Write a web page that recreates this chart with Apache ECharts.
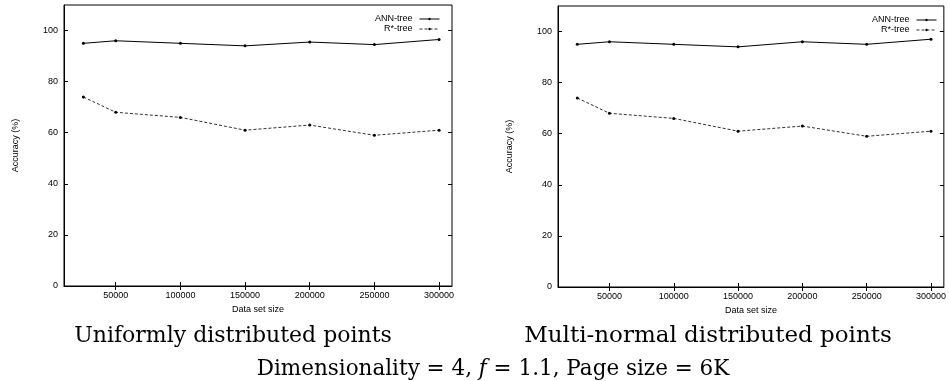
<!DOCTYPE html>
<html>
<head>
<meta charset="utf-8">
<script src="https://cdn.jsdelivr.net/npm/echarts@6.0.0/dist/echarts.min.js"></script>
<style>
  html, body { margin: 0; padding: 0; background: #fff; }
  #chart { width: 949px; height: 381px; }
</style>
</head>
<body>
<div id="chart"></div>
<script>
// data
const sizes = [25000, 50000, 100000, 150000, 200000, 250000, 300000];
const uniformAnn = [95, 96, 95, 94, 95.5, 94.5, 96.5];
const uniformRstar = [74, 68, 66, 61, 63, 59, 61];
const normalAnn = [95, 96, 95, 94, 96, 95, 97];
const normalRstar = [74, 68, 66, 61, 63, 59, 61];

const xTicks = [50000, 100000, 150000, 200000, 250000, 300000];
const yTicks = [0, 20, 40, 60, 80, 100];
const seriesNames = ["ANN-tree", "R*-tree"];
const panelCaptions = ["Uniformly distributed points", "Multi-normal distributed points"];

const SANS = '"Liberation Sans", Arial, sans-serif';
const SERIF = '"DejaVu Serif", serif';

const chart = echarts.init(document.getElementById("chart"), null, { renderer: "canvas" });

const grids = [
  { left: 64, right: 497, top: 5, bottom: 95 },
  { left: 558, right: 3, top: 6, bottom: 94 },
];

function pairs(ys) {
  return sizes.map((x, i) => [x, ys[i]]);
}

const xAxes = [];
const yAxes = [];
grids.forEach((g, gi) => {
  // bottom axis with labels
  xAxes.push({
    gridIndex: gi,
    type: "value",
    min: 10000,
    max: 310000,
    name: "Data set size",
    nameLocation: "middle",
    nameGap: 19,
    nameTextStyle: { fontFamily: SANS, fontSize: 9, color: "#000" },
    axisLine: { show: true, onZero: false, lineStyle: { color: "#000", width: 1 } },
    axisTick: { show: true, inside: true, length: 4, customValues: xTicks, lineStyle: { color: "#000" } },
    axisLabel: {
      customValues: xTicks,
      formatter: (v) => String(v),
      fontFamily: SANS,
      fontSize: 9,
      color: "#000",
      margin: 5,
    },
    splitLine: { show: false },
  });
  // mirrored ticks on top
  xAxes.push({
    gridIndex: gi,
    type: "value",
    position: "top",
    min: 10000,
    max: 310000,
    axisLine: { show: false },
    axisTick: { show: true, inside: true, length: 4, customValues: xTicks, lineStyle: { color: "#000" } },
    axisLabel: { show: false },
    splitLine: { show: false },
  });
  yAxes.push({
    gridIndex: gi,
    type: "value",
    min: 0,
    max: 110,
    name: "Accuracy (%)",
    nameLocation: "middle",
    nameGap: 44,
    nameRotate: 90,
    nameTextStyle: { fontFamily: SANS, fontSize: 9, color: "#000" },
    axisLine: { show: true, onZero: false, lineStyle: { color: "#000", width: 1 } },
    axisTick: { show: true, inside: true, length: 4, customValues: yTicks, lineStyle: { color: "#000" } },
    axisLabel: { customValues: yTicks, fontFamily: SANS, fontSize: 9, color: "#000", margin: 6 },
    splitLine: { show: false },
  });
  yAxes.push({
    gridIndex: gi,
    type: "value",
    position: "right",
    min: 0,
    max: 110,
    axisLine: { show: false },
    axisTick: { show: true, inside: true, length: 4, customValues: yTicks, lineStyle: { color: "#000" } },
    axisLabel: { show: false },
    splitLine: { show: false },
  });
});

function lineSeries(name, ys, gi, dashed) {
  return {
    name,
    type: "line",
    xAxisIndex: gi * 2,
    yAxisIndex: gi * 2,
    data: pairs(ys),
    symbol: "circle",
    symbolSize: 3,
    showSymbol: true,
    lineStyle: { color: dashed ? "#333" : "#000", width: 1, type: dashed ? [3, 2] : "solid" },
    itemStyle: { color: "#000" },
  };
}

const legendBase = {
  orient: "vertical",
  align: "right",
  itemWidth: 20,
  itemHeight: 3,
  itemGap: 0,
  padding: 0,
  data: seriesNames,
  selectedMode: false,
  lineStyle: { width: 1 },
  textStyle: { fontFamily: SANS, fontSize: 9, lineHeight: 10, color: "#000", padding: [0, 2, 0, 0] },
};

const option = {
  animation: false,
  backgroundColor: "#fff",
  grid: grids.map((g) => ({ ...g, show: true, borderColor: "#000", borderWidth: 1 })),
  xAxis: xAxes,
  yAxis: yAxes,
  legend: [
    { ...legendBase, right: 509, top: 14 },
    { ...legendBase, right: 12, top: 15 },
  ],
  series: [
    lineSeries(seriesNames[0], uniformAnn, 0, false),
    lineSeries(seriesNames[1], uniformRstar, 0, true),
    lineSeries(seriesNames[0], normalAnn, 1, false),
    lineSeries(seriesNames[1], normalRstar, 1, true),
  ],
  graphic: [
    {
      type: "text", x: 233, y: 336,
      style: { text: panelCaptions[0], font: "22px " + SERIF, fill: "#000", align: "center", verticalAlign: "middle" },
    },
    {
      type: "text", x: 708, y: 336,
      style: { text: panelCaptions[1], font: "23px " + SERIF, fill: "#000", align: "center", verticalAlign: "middle" },
    },
    {
      type: "text", x: 493, y: 369,
      style: {
        text: "{a|Dimensionality = 4, }{i|f}{a| = 1.1, Page size = 6K}",
        align: "center",
        verticalAlign: "middle",
        rich: {
          a: { fontFamily: SERIF, fontSize: 21.5, color: "#000" },
          i: { fontFamily: SERIF, fontSize: 21.5, fontStyle: "italic", color: "#000" },
        },
      },
    },
  ],
};

chart.setOption(option);
</script>
</body>
</html>
